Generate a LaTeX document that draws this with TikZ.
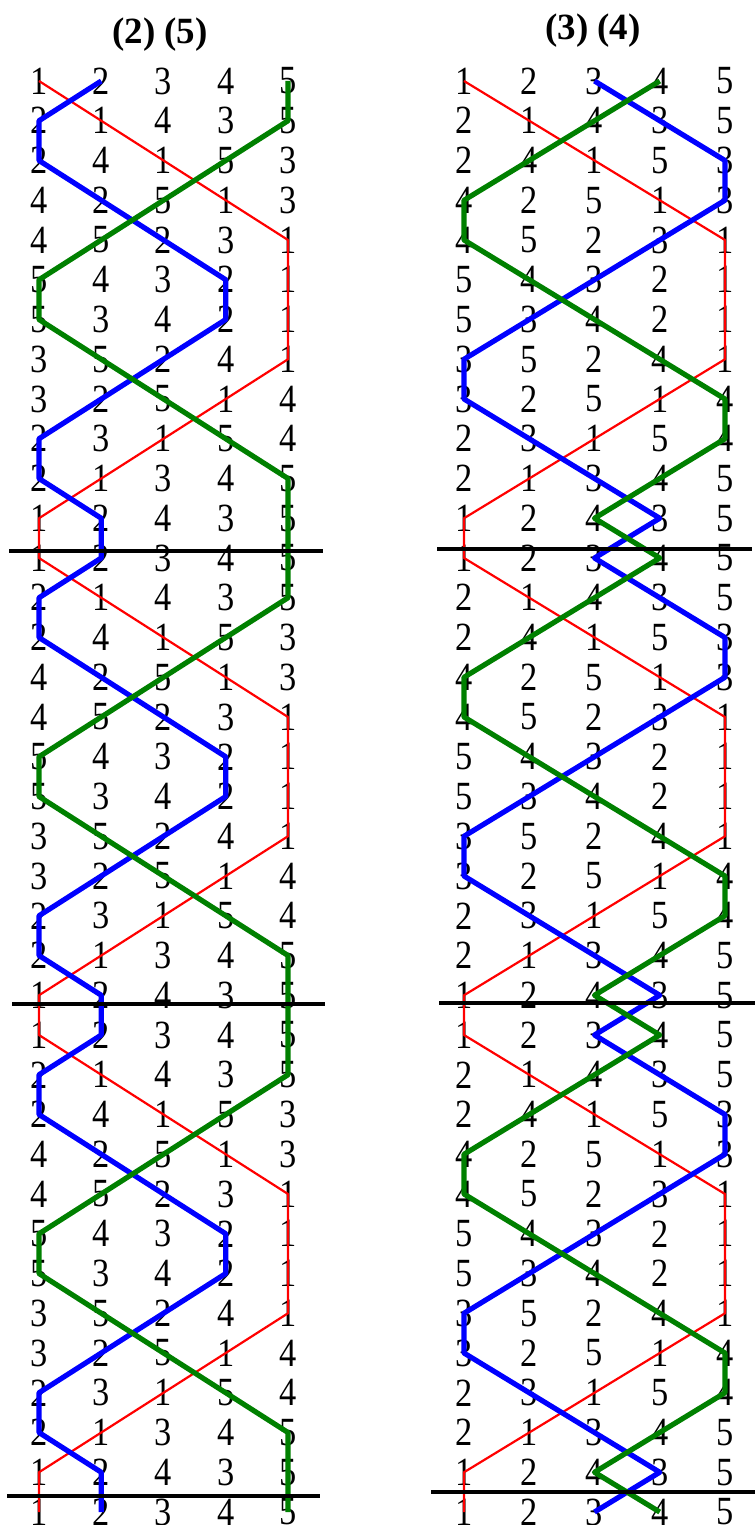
\documentclass[tikz,border=0pt]{standalone}
\usepackage{fontspec}
\setmainfont{Liberation Serif}
\newcommand\bellglyph[1]{\scalebox{0.86}[1]{#1}}
\begin{document}
\begin{tikzpicture}[x=0.5pt,y=-0.5pt,
  bellnum/.style={inner sep=0pt,font=\fontsize{20pt}{20pt}\selectfont},
  heading/.style={anchor=base,font=\bfseries\fontsize{18.5pt}{20pt}\selectfont},
  hunt/.style={red,line width=1.1pt,line join=round},
  work/.style={line width=2.6pt,line join=round},
  leadend/.style={black,line width=1.6pt}]
\useasboundingbox (0,0) rectangle (755,1525);
% headings
\node[heading] (titleL) at (160,44) {(2) (5)};
\node[heading] (titleR) at (593,40) {(3) (4)};
% rows of three leads, each node named by its bell
\foreach \blk/\xo/\dx in {L/39/62.25, R/464/65.25} {
  \foreach \lead in {0,1,2} {
    \foreach \k/\pa/\pb/\pc/\pd/\pe in {0/1/2/3/4/5, 1/2/1/4/3/5, 2/2/4/1/5/3,
        3/4/2/5/1/3, 4/4/5/2/3/1, 5/5/4/3/2/1, 6/5/3/4/2/1, 7/3/5/2/4/1,
        8/3/2/5/1/4, 9/2/3/1/5/4, 10/2/1/3/4/5, 11/1/2/4/3/5} {
      \pgfmathtruncatemacro\rownum{12*\lead+\k}
      \foreach \col/\bell in {0/\pa,1/\pb,2/\pc,3/\pd,4/\pe}
        \node[bellnum] (\blk-\rownum-\bell) at (\xo+\dx*\col,81+39.75*\rownum) {\bellglyph{\bell}};
    }
  }
  % back to rounds
  \foreach \col in {0,...,4} {
    \pgfmathtruncatemacro\bell{\col+1}
    \node[bellnum] (\blk-36-\bell) at (\xo+\dx*\col,81+39.75*36) {\bellglyph{\bell}};
  }
}
% paths of the bells
\foreach \blk/\bx/\by in {L/2/5, R/3/4} {
  \draw[hunt] (\blk-0-1.center) \foreach \i in {1,...,36} {-- (\blk-\i-1.center)};
  \draw[work,blue] (\blk-0-\bx.center) \foreach \i in {1,...,36} {-- (\blk-\i-\bx.center)};
  \draw[work,green!50!black] (\blk-0-\by.center) \foreach \i in {1,...,36} {-- (\blk-\i-\by.center)};
}
% lead ends
\draw[leadend] (9,551) -- (323,551);
\draw[leadend] (12,1004) -- (325,1004);
\draw[leadend] (7,1496) -- (320,1496);
\draw[leadend] (437,549) -- (752,549);
\draw[leadend] (439,1003) -- (755,1003);
\draw[leadend] (431,1492) -- (755,1492);
\end{tikzpicture}
\end{document}
